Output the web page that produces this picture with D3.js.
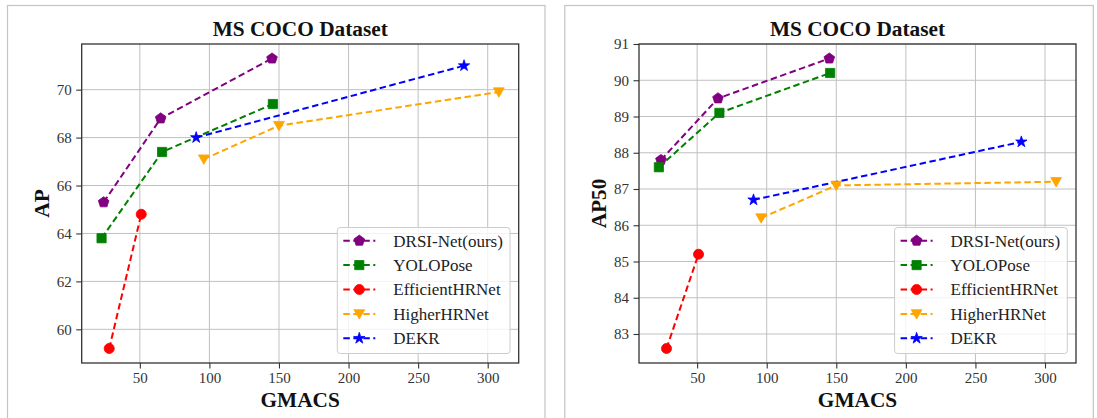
<!DOCTYPE html>
<html><head><meta charset="utf-8">
<script src="https://cdn.jsdelivr.net/npm/d3@7"></script>
<style>
html,body{margin:0;padding:0;background:#fff;}
svg{display:block;}
text{font-family:"Liberation Serif","Times New Roman",serif;}
</style></head>
<body>
<svg id="c" width="1097" height="418"></svg>
<script>
// ---- data ----
const seriesNames = ["DRSI-Net(ours)", "YOLOPose", "EfficientHRNet", "HigherHRNet", "DEKR"];
const seriesColors = ["#800080", "#008000", "#ff0000", "#ffa500", "#0000ff"];
const seriesMarkers = ["pentagon", "square", "circle", "triangleDown", "star"];

const drsiGmacs = [24, 65, 145];
const drsiAP = [65.3, 68.8, 71.3];
const drsiAP50 = [87.8, 89.5, 90.6];

const yoloGmacs = [22.5, 66, 145.6];
const yoloAP = [63.8, 67.4, 69.4];
const yoloAP50 = [87.6, 89.1, 90.2];

const effGmacs = [28, 51];
const effAP = [59.2, 64.8];
const effAP50 = [82.6, 85.2];

const higherGmacs = [96, 150, 308];
const higherAP = [67.1, 68.5, 69.9];
const higherAP50 = [86.2, 87.1, 87.2];

const dekrGmacs = [90.5, 283];
const dekrAP = [68.0, 71.0];
const dekrAP50 = [86.7, 88.3];

const xTicks = [50, 100, 150, 200, 250, 300];
const apTicks = [60, 62, 64, 66, 68, 70];
const ap50Ticks = [83, 84, 85, 86, 87, 88, 89, 90, 91];

const chartTitle = "MS COCO Dataset";
const xLabel = "GMACS";

// ---- build ----
const gmacsList = [drsiGmacs, yoloGmacs, effGmacs, higherGmacs, dekrGmacs];
const apList = [drsiAP, yoloAP, effAP, higherAP, dekrAP];
const ap50List = [drsiAP50, yoloAP50, effAP50, higherAP50, dekrAP50];

function makeSeries(yList) {
  return seriesNames.map((n, i) => ({
    name: n, color: seriesColors[i], marker: seriesMarkers[i],
    pts: gmacsList[i].map((x, j) => ({x: x, y: yList[i][j]}))
  }));
}

function padExtent(vals) {
  const e = d3.extent(vals);
  const m = (e[1] - e[0]) * 0.05;
  return [e[0] - m, e[1] + m];
}

function markerPath(type) {
  if (type === "pentagon") {
    const r = 5.6, pts = [];
    for (let k = 0; k < 5; k++) {
      const a = -Math.PI / 2 + k * 2 * Math.PI / 5;
      pts.push([r * Math.cos(a), r * Math.sin(a)]);
    }
    return "M" + pts.map(p => p.join(",")).join("L") + "Z";
  }
  if (type === "square") return "M-4.6,-4.6L4.6,-4.6L4.6,4.6L-4.6,4.6Z";
  if (type === "circle") return d3.symbol(d3.symbolCircle, 80)();
  if (type === "triangleDown") return "M-5.4,-4.2L5.4,-4.2L0,5.2Z";
  if (type === "star") return d3.symbol(d3.symbolStar, 40)();
}

const svg = d3.select("#c");

function drawChart(offsetX, yLabel, yList, yTicks) {
  const left = 81.7 + offsetX, top = 44, w = 437, h = 319;
  const series = makeSeries(yList);
  const allX = [].concat(...gmacsList);
  const allY = [].concat(...yList);
  const x = d3.scaleLinear().domain(padExtent(allX)).range([left, left + w]);
  const y = d3.scaleLinear().domain(padExtent(allY)).range([top + h, top]);

  // outer frame
  svg.append("rect").attr("x", 7.5 + offsetX).attr("y", 5.5)
    .attr("width", 537.5 + (offsetX ? -9 : 0)).attr("height", 430)
    .attr("fill", "none").attr("stroke", "#c4c4c4").attr("stroke-width", 1.2);

  const g = svg.append("g");
  // grid
  g.append("g").selectAll("line").data(xTicks).join("line")
    .attr("x1", d => x(d)).attr("x2", d => x(d)).attr("y1", top).attr("y2", top + h)
    .attr("stroke", "#c0c0c0").attr("stroke-width", 1);
  g.append("g").selectAll("line").data(yTicks).join("line")
    .attr("y1", d => y(d)).attr("y2", d => y(d)).attr("x1", left).attr("x2", left + w)
    .attr("stroke", "#c0c0c0").attr("stroke-width", 1);

  // axes
  const xAxis = d3.axisBottom(x).tickValues(xTicks).tickSize(5.5).tickPadding(4).tickFormat(d3.format("d"));
  const yAxis = d3.axisLeft(y).tickValues(yTicks).tickSize(5.5).tickPadding(4.5).tickFormat(d3.format("d"));
  const gx = g.append("g").attr("transform", `translate(0,${top + h})`).call(xAxis);
  const gy = g.append("g").attr("transform", `translate(${left},0)`).call(yAxis);
  [gx, gy].forEach(a => {
    a.select(".domain").remove();
    a.selectAll(".tick line").attr("stroke", "#333").attr("stroke-width", 1.1);
    a.selectAll(".tick text").attr("fill", "#333").attr("font-size", 15)
      .attr("font-family", "'Liberation Serif','Times New Roman',serif");
  });

  // series
  const line = d3.line().x(d => x(d.x)).y(d => y(d.y));
  series.forEach(s => {
    g.append("path").attr("d", line(s.pts)).attr("fill", "none")
      .attr("stroke", s.color).attr("stroke-width", 2).attr("stroke-dasharray", "6.5,3.5");
  });
  series.forEach(s => {
    g.append("g").selectAll("path").data(s.pts).join("path")
      .attr("d", markerPath(s.marker))
      .attr("transform", d => `translate(${x(d.x)},${y(d.y)})`)
      .attr("fill", s.color).attr("stroke", s.color).attr("stroke-width", 0.8);
  });

  // spines
  g.append("rect").attr("x", left).attr("y", top).attr("width", w).attr("height", h)
    .attr("fill", "none").attr("stroke", "#333").attr("stroke-width", 1.3);

  // legend
  const lx = left + 255.6, ly = 227.5, lw = 172.7, lh = 126;
  const lg = g.append("g");
  lg.append("rect").attr("x", lx).attr("y", ly).attr("width", lw).attr("height", lh)
    .attr("rx", 3).attr("fill", "#fff").attr("fill-opacity", 0.8)
    .attr("stroke", "#cccccc").attr("stroke-width", 1);
  series.forEach((s, i) => {
    const cy = 240.7 + i * 24.4;
    const row = lg.append("g");
    row.append("line").attr("x1", lx + 6).attr("x2", lx + 38).attr("y1", cy).attr("y2", cy)
      .attr("stroke", s.color).attr("stroke-width", 2).attr("stroke-dasharray", "6.5,3.5");
    row.append("path").attr("d", markerPath(s.marker))
      .attr("transform", `translate(${lx + 22},${cy})`).attr("fill", s.color).attr("stroke", s.color).attr("stroke-width", 0.8);
    row.append("text").attr("x", lx + 56).attr("y", cy).attr("dy", "0.35em")
      .attr("font-size", 17).attr("fill", "#222").text(s.name);
  });

  // labels
  svg.append("text").attr("x", left + w / 2).attr("y", 35.7).attr("text-anchor", "middle")
    .attr("font-size", 21.3).attr("font-weight", "bold").attr("fill", "#111").text(chartTitle);
  svg.append("text").attr("x", left + w / 2).attr("y", 406.5).attr("text-anchor", "middle")
    .attr("font-size", 21.3).attr("font-weight", "bold").attr("fill", "#111").text(xLabel);
  svg.append("text").attr("transform", `translate(${49 + offsetX},${top + h / 2}) rotate(-90)`)
    .attr("text-anchor", "middle").attr("font-size", 21.3).attr("font-weight", "bold")
    .attr("fill", "#111").text(yLabel);
}

drawChart(0, "AP", apList, apTicks);
drawChart(557.3, "AP50", ap50List, ap50Ticks);
</script>
</body></html>
